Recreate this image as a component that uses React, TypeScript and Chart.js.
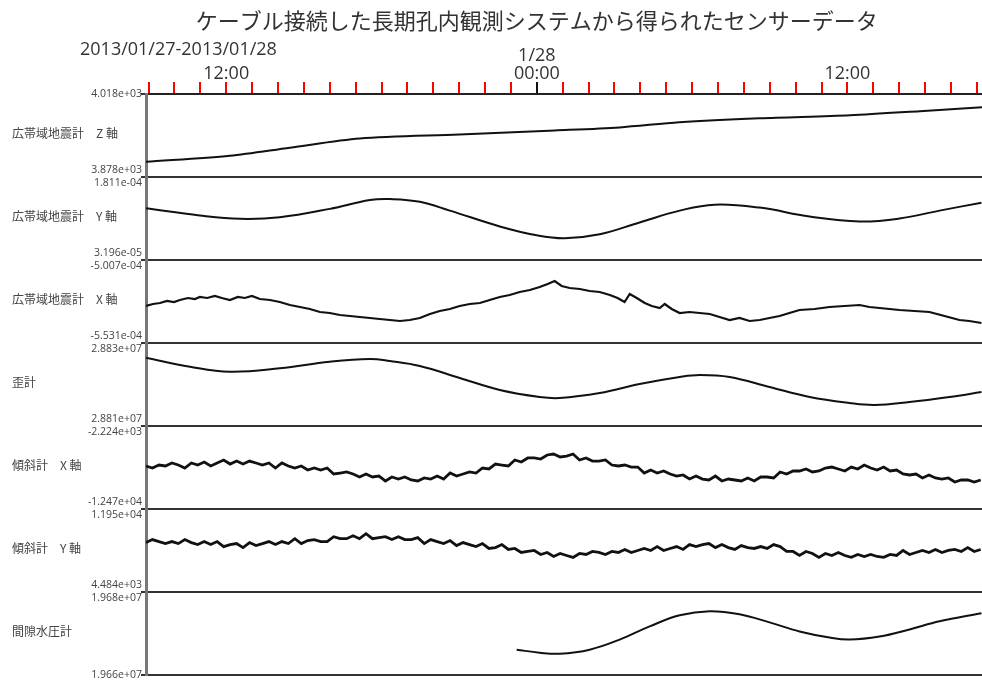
import React, { useEffect, useRef } from 'react';
import { Chart, registerables } from 'chart.js';

Chart.register(...registerables);

// ---------- text ----------
const TITLE = 'ケーブル接続した長期孔内観測システムから得られたセンサーデータ';
const DATE_RANGE = '2013/01/27-2013/01/28';

// ---------- time axis (hours from 2013/01/27 00:00) ----------
const X_MIN = 8.9;
const X_MAX = 41.2;
const hourTicks = [9, 10, 11, 12, 13, 14, 15, 16, 17, 18, 19, 20, 21, 22, 23, 24, 25, 26, 27, 28, 29, 30, 31, 32, 33, 34, 35, 36, 37, 38, 39, 40, 41];
const hourLabels: Record<number, string | string[]> = { 12: '12:00', 24: ['1/28', '00:00'], 36: '12:00' };
const MIDNIGHT = 24;

// ---------- panels ----------
const panelNames = [
  '広帯域地震計　Z 軸',
  '広帯域地震計　Y 軸',
  '広帯域地震計　X 軸',
  '歪計',
  '傾斜計　X 軸',
  '傾斜計　Y 軸',
  '間隙水圧計',
];
const panelMin = [3878, 3.196e-5, -5.531e-4, 2.881e7, -1.247e4, 4484, 1.966e7];
const panelMax = [4018, 1.811e-4, -5.007e-4, 2.883e7, -2224, 11950, 1.968e7];

// ---------- series ----------
const zTimes = [8.9, 12.14, 14.46, 17.16, 21.0, 24.7, 27.2, 29.5, 32.6, 36.1, 38.8, 41.2];
const zValues = [3903.6, 3913.9, 3927.5, 3942.9, 3949.7, 3956.5, 3961.7, 3970.2, 3977.0, 3982.1, 3989.0, 3995.8];

const ySeisTimes = [8.9, 10.98, 12.53, 14.07, 16.0, 17.55, 18.32, 19.48, 20.64, 22.57, 24.0, 25.08, 26.43, 27.97, 29.52, 30.87, 32.61, 34.54, 36.47, 38.01, 39.56, 41.18];
const ySeisValues = [1.248e-4, 1.119e-4, 1.060e-4, 1.088e-4, 1.238e-4, 1.397e-4, 1.415e-4, 1.367e-4, 1.207e-4, 0.923e-4, 0.763e-4, 0.710e-4, 0.781e-4, 0.994e-4, 1.207e-4, 1.314e-4, 1.261e-4, 1.101e-4, 1.012e-4, 1.065e-4, 1.207e-4, 1.349e-4];

const xSeisTimes = [
  8.90, 9.17, 9.44, 9.71, 9.98, 10.21, 10.52, 10.79, 10.98, 11.26,
  11.56, 11.83, 12.14, 12.45, 12.72, 12.99, 13.30, 13.69, 14.07, 14.46,
  14.85, 15.23, 15.62, 16.00, 16.39, 16.78, 17.16, 17.55, 17.93, 18.32,
  18.71, 19.09, 19.48, 19.87, 20.25, 20.64, 21.02, 21.41, 21.80, 22.18,
  22.57, 22.95, 23.34, 23.73, 24.11, 24.42, 24.69, 24.96, 25.27, 25.66,
  26.04, 26.43, 26.82, 27.12, 27.39, 27.59, 27.86, 28.17, 28.44, 28.75,
  28.94, 29.21, 29.52, 29.90, 30.29, 30.68, 31.06, 31.45, 31.83, 32.22,
  32.61, 32.99, 33.38, 33.76, 34.15, 34.73, 35.31, 35.89, 36.47, 36.85,
  37.24, 37.63, 38.01, 38.59, 39.17, 39.75, 40.33, 40.71, 41.18,
];
const xSeisValues = [
  -5.2974e-4, -5.2848e-4, -5.2785e-4, -5.2658e-4, -5.2722e-4, -5.2595e-4, -5.2469e-4, -5.2532e-4, -5.2406e-4, -5.2469e-4,
  -5.2343e-4, -5.2469e-4, -5.2595e-4, -5.2406e-4, -5.2469e-4, -5.2343e-4, -5.2532e-4, -5.2595e-4, -5.2722e-4, -5.2911e-4,
  -5.3037e-4, -5.3164e-4, -5.3353e-4, -5.3416e-4, -5.3542e-4, -5.3605e-4, -5.3669e-4, -5.3732e-4, -5.3795e-4, -5.3858e-4,
  -5.3921e-4, -5.3858e-4, -5.3732e-4, -5.3479e-4, -5.3290e-4, -5.3164e-4, -5.2974e-4, -5.2848e-4, -5.2785e-4, -5.2595e-4,
  -5.2406e-4, -5.2280e-4, -5.2090e-4, -5.1964e-4, -5.1775e-4, -5.1585e-4, -5.1396e-4, -5.1712e-4, -5.1838e-4, -5.1901e-4,
  -5.2027e-4, -5.2090e-4, -5.2280e-4, -5.2469e-4, -5.2722e-4, -5.2217e-4, -5.2469e-4, -5.2785e-4, -5.2974e-4, -5.3100e-4,
  -5.2848e-4, -5.3164e-4, -5.3416e-4, -5.3353e-4, -5.3416e-4, -5.3479e-4, -5.3669e-4, -5.3858e-4, -5.3732e-4, -5.3921e-4,
  -5.3858e-4, -5.3732e-4, -5.3605e-4, -5.3416e-4, -5.3227e-4, -5.3164e-4, -5.3037e-4, -5.2974e-4, -5.2911e-4, -5.3037e-4,
  -5.3100e-4, -5.3164e-4, -5.3227e-4, -5.3290e-4, -5.3353e-4, -5.3605e-4, -5.3858e-4, -5.3921e-4, -5.4047e-4,
];

const strainTimes = [8.9, 10.6, 12.14, 14.07, 16.0, 17.55, 18.32, 19.48, 21.02, 22.57, 24.11, 24.88, 26.43, 27.97, 29.52, 30.29, 31.45, 32.99, 34.54, 36.08, 37.05, 38.4, 39.94, 41.18];
const strainValues = [28826460, 28824290, 28823080, 28823900, 28825490, 28826150, 28825660, 28824460, 28821570, 28818680, 28816990, 28816750, 28817950, 28820120, 28821810, 28822290, 28821810, 28819400, 28816990, 28815540, 28815060, 28815780, 28816990, 28818190];

// tilt meters: one reading every 15 minutes from 08:54
const TILT_START = 8.9;
const TILT_STEP = 0.25;
const tiltXValues = [
  -7160, -7410, -7040, -7160, -6790, -7040, -7410, -6790, -7040, -6670,
  -7160, -6790, -6420, -6920, -6550, -6920, -6550, -6790, -7040, -6790,
  -7410, -6790, -7160, -7410, -7160, -7660, -7410, -7660, -7410, -8150,
  -8030, -7900, -8150, -8520, -8150, -8520, -8400, -9010, -8520, -8770,
  -8520, -8890, -9010, -8640, -8770, -8400, -8770, -8030, -8400, -8150,
  -7900, -8030, -7410, -7530, -6920, -7040, -7160, -6420, -6670, -6170,
  -6170, -6300, -5800, -5680, -6050, -5930, -5680, -6420, -6170, -6550,
  -6550, -6420, -7040, -7160, -7040, -7290, -7290, -8030, -7660, -8030,
  -7780, -8150, -8400, -8270, -8770, -8400, -8770, -8890, -8400, -9010,
  -8770, -8890, -9010, -8640, -9010, -8520, -8520, -8640, -7900, -8150,
  -7780, -7780, -7530, -7900, -7780, -7410, -7290, -7530, -7780, -7290,
  -7530, -7040, -7410, -7660, -7290, -7780, -7660, -8150, -8270, -8150,
  -8640, -8270, -8640, -8770, -8640, -9140, -8890, -8890, -9140, -8890,
];
const tiltYValues = [
  8930, 9200, 9020, 8840, 9020, 8840, 9200, 8930, 8750, 9020,
  8750, 9020, 8570, 8750, 8840, 8480, 8930, 8660, 8840, 9020,
  8750, 9020, 8840, 9280, 8840, 9110, 9200, 9020, 9020, 9460,
  9280, 9280, 9550, 9280, 9730, 9280, 9370, 9460, 9200, 9460,
  9200, 9200, 9370, 8840, 9200, 9020, 8840, 9110, 8660, 8930,
  8750, 8570, 8840, 8400, 8480, 8750, 8310, 8400, 8040, 8130,
  8220, 7860, 8040, 7680, 7950, 7770, 7600, 7950, 7860, 8130,
  8040, 7860, 8130, 8040, 8310, 8040, 8220, 8400, 8220, 8570,
  8220, 8400, 8570, 8310, 8750, 8570, 8750, 8840, 8480, 8750,
  8480, 8310, 8660, 8480, 8400, 8570, 8400, 8750, 8570, 8130,
  8130, 7770, 8130, 7950, 7600, 7950, 7770, 8040, 7770, 7600,
  7860, 7680, 7860, 7680, 7600, 7860, 7770, 8220, 7860, 8040,
  8220, 8040, 8310, 8040, 8220, 8310, 8130, 8480, 8130, 8310,
];

const poreTimes = [23.22, 24.11, 24.88, 26.04, 27.2, 28.36, 29.52, 30.68, 31.83, 32.99, 34.15, 35.31, 36.08, 37.24, 38.4, 39.56, 41.18];
const poreValues = [19666100, 19665370, 19665120, 19666100, 19668540, 19671710, 19674390, 19675370, 19674630, 19672680, 19670490, 19669020, 19668540, 19669270, 19670980, 19672930, 19674880];

// ---------- helpers ----------
const pts = (t: number[], v: number[]) => t.map((x, i) => ({ x, y: v[i] }));
const tiltPts = (v: number[]) => v.map((y, i) => ({ x: TILT_START + i * TILT_STEP, y }));

function fmtExp(v: number): string {
  const s = v.toExponential(3);
  const [m, e] = s.split('e');
  const sign = e[0] === '-' ? '-' : '+';
  const d = e.replace(/^[+-]/, '').padStart(2, '0');
  return `${m}e${sign}${d}`;
}

const LEFT_W = 146;
const TOP_H = 94;

const overlay = {
  id: 'overlay',
  afterDraw(chart: any) {
    const { ctx, chartArea } = chart;
    const xs = chart.scales.x;
    ctx.save();
    ctx.fillStyle = '#333';
    ctx.textBaseline = 'middle';
    ctx.textAlign = 'center';
    ctx.font = '22px "Noto Sans CJK JP"';
    ctx.fillText(TITLE, xs.getPixelForValue(MIDNIGHT), 21);
    ctx.textAlign = 'left';
    ctx.font = '18px "Open Sans"';
    ctx.fillText(DATE_RANGE, 80, 50);
    const last = panelNames.length - 1;
    panelNames.forEach((name, i) => {
      const s = chart.scales['y' + i];
      const mid = (s.top + s.bottom) / 2;
      ctx.fillStyle = '#444';
      ctx.font = '12px "Noto Sans CJK JP"';
      ctx.textAlign = 'left';
      ctx.fillText(name, 12, mid - 2);
      ctx.font = '10.5px "Open Sans"';
      ctx.textAlign = 'right';
      ctx.fillText(fmtExp(s.max), chartArea.left - 4, i === 0 ? s.top : s.top + 6.5);
      ctx.fillText(fmtExp(s.min), chartArea.left - 4, i === last ? s.bottom : s.bottom - 6.5);
    });
    ctx.restore();
  },
};

function buildConfig(): any {
  const line = { borderColor: '#111', borderWidth: 2, pointRadius: 0, fill: false };
  const datasets = [
    { ...line, data: pts(zTimes, zValues), yAxisID: 'y0', tension: 0.3 },
    { ...line, data: pts(ySeisTimes, ySeisValues), yAxisID: 'y1', tension: 0.4 },
    { ...line, data: pts(xSeisTimes, xSeisValues), yAxisID: 'y2', tension: 0, borderWidth: 2.2 },
    { ...line, data: pts(strainTimes, strainValues), yAxisID: 'y3', tension: 0.4 },
    { ...line, data: tiltPts(tiltXValues), yAxisID: 'y4', tension: 0, borderWidth: 2.8 },
    { ...line, data: tiltPts(tiltYValues), yAxisID: 'y5', tension: 0, borderWidth: 2.8 },
    { ...line, data: pts(poreTimes, poreValues), yAxisID: 'y6', tension: 0.4 },
  ];

  const scales: any = {
    x: {
      type: 'linear',
      position: 'top',
      min: X_MIN,
      max: X_MAX,
      afterBuildTicks: (s: any) => { s.ticks = hourTicks.map((v) => ({ value: v })); },
      afterFit: (s: any) => { s.height = TOP_H; },
      ticks: {
        autoSkip: false,
        maxRotation: 0,
        padding: -1,
        color: '#333',
        font: { family: 'Open Sans', size: 18, lineHeight: 1 },
        callback: (v: number) => hourLabels[v] ?? '',
      },
      grid: {
        drawOnChartArea: false,
        drawTicks: true,
        tickLength: 12,
        lineWidth: 2,
        color: (c: any) => (c.tick && c.tick.value === MIDNIGHT ? '#111' : '#ff0000'),
      },
      border: { display: true, color: '#222', width: 2 },
    },
  };
  panelNames.forEach((_, i) => {
    scales['y' + i] = {
      type: 'linear',
      position: 'left',
      stack: 'panels',
      stackWeight: 1,
      weight: panelNames.length - i,
      min: panelMin[i],
      max: panelMax[i],
      afterBuildTicks: (s: any) => { s.ticks = [{ value: s.min }, { value: s.max }]; },
      afterFit: (s: any) => { s.width = LEFT_W; },
      ticks: { display: false },
      grid: { color: '#333', lineWidth: 2, tickLength: 5, drawTicks: true, drawOnChartArea: true },
      border: { display: true, color: '#777', width: 3 },
    };
  });

  return {
    type: 'line',
    data: { datasets },
    options: {
      animation: false,
      responsive: false,
      maintainAspectRatio: false,
      layout: { padding: { left: 0, right: 0, top: 0, bottom: 7 } },
      plugins: { legend: { display: false }, tooltip: { enabled: false }, title: { display: false } },
      scales,
    },
    plugins: [overlay],
  };
}

export default function App() {
  const ref = useRef<HTMLCanvasElement>(null);
  useEffect(() => {
    const chart = new Chart(ref.current as HTMLCanvasElement, buildConfig());
    return () => chart.destroy();
  }, []);
  return (
    <div style={{ position: 'fixed', left: 0, top: 0, width: 982, height: 682, background: '#fff' }}>
      <canvas ref={ref} width={982} height={682} style={{ display: 'block', width: 982, height: 682 }} />
    </div>
  );
}
